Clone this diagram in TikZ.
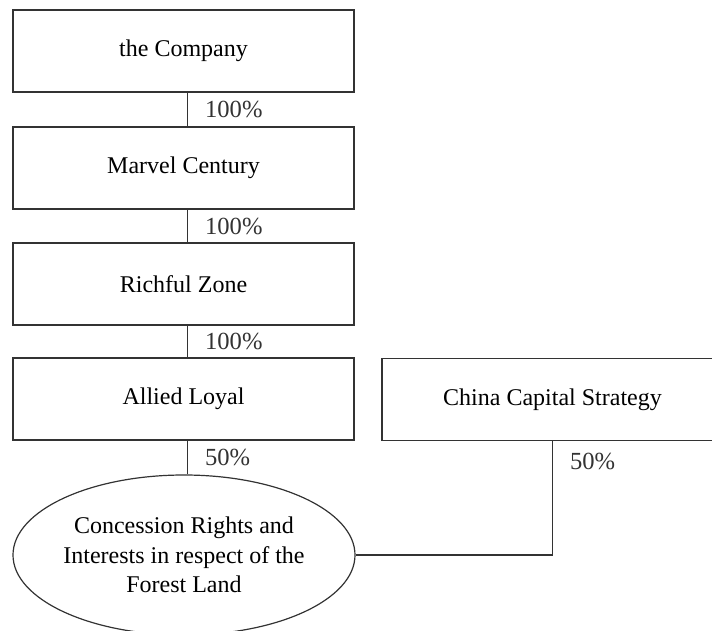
\documentclass[tikz,border=0pt]{standalone}
\usepackage{fontspec}
\setmainfont{Liberation Serif}
\usetikzlibrary{positioning,shapes.geometric}
\tikzset{
  entity/.style={draw=black!80,line width=0.6pt,minimum width=170.5pt,minimum height=41pt,
    inner sep=0pt,font=\fontsize{12}{14.5}\selectfont},
  asset/.style={ellipse,draw=black!80,line width=0.6pt,minimum width=171pt,minimum height=80pt,
    inner sep=0pt,align=center,font=\fontsize{12}{14.7}\selectfont},
  link/.style={line width=0.6pt,black!80},
  stake/.style={anchor=west,inner sep=0pt,xshift=8.5pt,font=\fontsize{12.3}{14}\selectfont},
}
\begin{document}
\begin{tikzpicture}[x=0.5pt,y=-0.5pt]
  \useasboundingbox (0,0) rectangle (712,631);
  % holding chain
  \node[entity] (company) at (183.5,51) {the Company};
  \node[entity] (marvel) at (183.5,168) {Marvel Century};
  \node[entity] (richful) at (183.5,284) {Richful Zone};
  \node[entity] (allied) at (183.5,399) {Allied Loyal};
  \node[entity] (ccs) at (552.5,399.5) {China Capital Strategy};
  \node[asset] (forest) at (184,555) {Concession Rights and\\Interests in respect of the\\Forest Land};
  % shareholdings, drawn a little right of centre
  \draw[link] ([xshift=2pt]company.south) -- ([xshift=2pt]marvel.north) node[stake,midway] {100\%};
  \draw[link] ([xshift=2pt]marvel.south) -- ([xshift=2pt]richful.north) node[stake,midway] {100\%};
  \draw[link] ([xshift=2pt]richful.south) -- ([xshift=2pt]allied.north) node[stake,midway] {100\%};
  \draw[link] ([xshift=2pt]allied.south) -- ([xshift=2pt]allied.south |- forest.north) node[stake,midway] {50\%};
  \draw[link] (ccs.south) |- (forest.east) node[stake,pos=0.09] {50\%};
\end{tikzpicture}
\end{document}
